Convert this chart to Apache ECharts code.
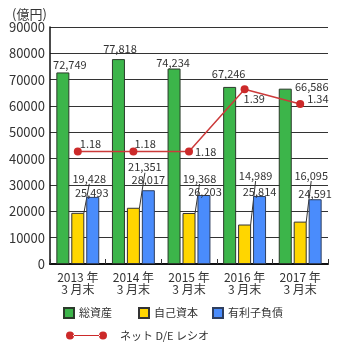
<!DOCTYPE html>
<html>
<head>
<meta charset="utf-8">
<script src="https://cdn.jsdelivr.net/npm/echarts@6/dist/echarts.min.js"></script>
<style>
html,body{margin:0;padding:0;background:#fff;}
#chart{width:343px;height:345px;}
</style>
</head>
<body>
<div id="chart"></div>
<script>
// Fiscal year-end categories
const categories = ['2013 年\n3 月末', '2014 年\n3 月末', '2015 年\n3 月末', '2016 年\n3 月末', '2017 年\n3 月末'];
// Values in 億円
const totalAssets = [72749, 77818, 74234, 67246, 66586];
const equity = [19428, 21351, 19368, 14989, 16095];
const interestDebt = [25493, 28017, 26203, 25814, 24591];
// Net D/E ratio
const netDE = [1.18, 1.18, 1.18, 1.39, 1.34];
const yTicks = [0, 10000, 20000, 30000, 40000, 50000, 60000, 70000, 80000, 90000];

// Label nudges (pixels) so labels clear one another
const greenShift = [[7, 0], [1.5, -3], [-1, 1.5], [-1, -6], [26.5, 6]];
const yellowShift = [[11.5, -27], [11.5, -33], [10.5, -27], [11, -41.5], [11, -38.6]];
const blueShift = [[-1, 3], [0, -3], [1, 4], [0, 3], [0, 2]];
const lineShift = [[-2, -8], [-3, -8], [2, 0], [-5, 10], [3, -5]];

const FONT = '"Noto Sans CJK JP", "Noto Sans", sans-serif';
const fmt = v => v.toLocaleString('en-US');

const chart = echarts.init(document.getElementById('chart'), null, { renderer: 'canvas' });

const barLabel = {
  show: true, position: 'top', distance: 2,
  fontFamily: FONT, fontSize: 11, color: '#333',
  formatter: p => fmt(p.value)
};
const shiftBy = arr => p => ({ dx: arr[p.dataIndex][0], dy: arr[p.dataIndex][1] });
const legendText = { fontFamily: FONT, fontSize: 11, color: '#333' };

chart.setOption({
  animation: false,
  title: {
    text: '(億円)', left: 7, top: 3,
    textStyle: { fontFamily: FONT, fontSize: 13, fontWeight: 'normal', color: '#333' }
  },
  grid: { left: 50, right: 15, top: 27, bottom: 81 },
  legend: [
    { data: ['総資産'], left: 58, top: 302, itemWidth: 10, itemHeight: 10, icon: 'rect', textStyle: legendText },
    { data: ['自己資本'], left: 133, top: 302, itemWidth: 10, itemHeight: 10, icon: 'rect', textStyle: legendText },
    { data: ['有利子負債'], left: 207, top: 302, itemWidth: 10, itemHeight: 10, icon: 'rect', textStyle: legendText },
    { data: ['ネット D/E レシオ'], left: 61, top: 325, itemWidth: 41, itemHeight: 10, itemGap: 0,
      icon: 'path://M0,5a4,4 0 1,0 8,0a4,4 0 1,0 -8,0z M33,5a4,4 0 1,0 8,0a4,4 0 1,0 -8,0z M7,4.5h27v1h-27z',
      textStyle: Object.assign({}, legendText, { padding: [0, 0, 0, 8] }) }
  ],
  xAxis: {
    type: 'category', data: categories,
    axisLine: { lineStyle: { color: '#111', width: 2 } },
    axisTick: { show: true, inside: true, length: 5, lineStyle: { color: '#333' } },
    axisLabel: { fontFamily: FONT, fontSize: 12, color: '#333', lineHeight: 12, margin: 7 }
  },
  yAxis: [
    {
      type: 'value', min: 0, max: 90000, interval: 10000,
      axisLine: { show: true, lineStyle: { color: '#111', width: 1.5 } },
      axisTick: { show: false },
      axisLabel: { fontFamily: FONT, fontSize: 13, color: '#333', margin: 5,
        formatter: v => (yTicks.indexOf(v) >= 0 ? String(v) : '') },
      splitLine: { lineStyle: { color: '#333', width: 1 } }
    },
    { type: 'value', min: 0.8, max: 1.6, show: false, splitLine: { show: false } }
  ],
  series: [
    {
      name: '総資産', type: 'bar', data: totalAssets, barWidth: 13, barGap: '15%',
      itemStyle: { color: '#3cb54a', borderColor: '#2b3b2b', borderWidth: 1 },
      label: barLabel, labelLayout: shiftBy(greenShift)
    },
    {
      name: '自己資本', type: 'bar', data: equity, barWidth: 13, barGap: '15%',
      itemStyle: { color: '#ffd600', borderColor: '#333', borderWidth: 1 },
      label: barLabel, labelLayout: shiftBy(yellowShift),
      labelLine: { show: true, lineStyle: { color: '#333', width: 1 } }
    },
    {
      name: '有利子負債', type: 'bar', data: interestDebt, barWidth: 13, barGap: '15%',
      itemStyle: { color: '#4a8cfc', borderColor: '#2f3f5f', borderWidth: 1 },
      label: barLabel, labelLayout: shiftBy(blueShift)
    },
    {
      name: 'ネット D/E レシオ', type: 'line', yAxisIndex: 1, data: netDE,
      symbol: 'circle', symbolSize: 8,
      lineStyle: { color: '#cc3a3a', width: 1.5 },
      itemStyle: { color: '#cc2a2a' },
      label: { show: true, position: 'right', distance: 0, fontFamily: FONT, fontSize: 11, color: '#333',
        formatter: p => p.value.toFixed(2) },
      labelLayout: shiftBy(lineShift),
      z: 5
    }
  ]
});
</script>
</body>
</html>
